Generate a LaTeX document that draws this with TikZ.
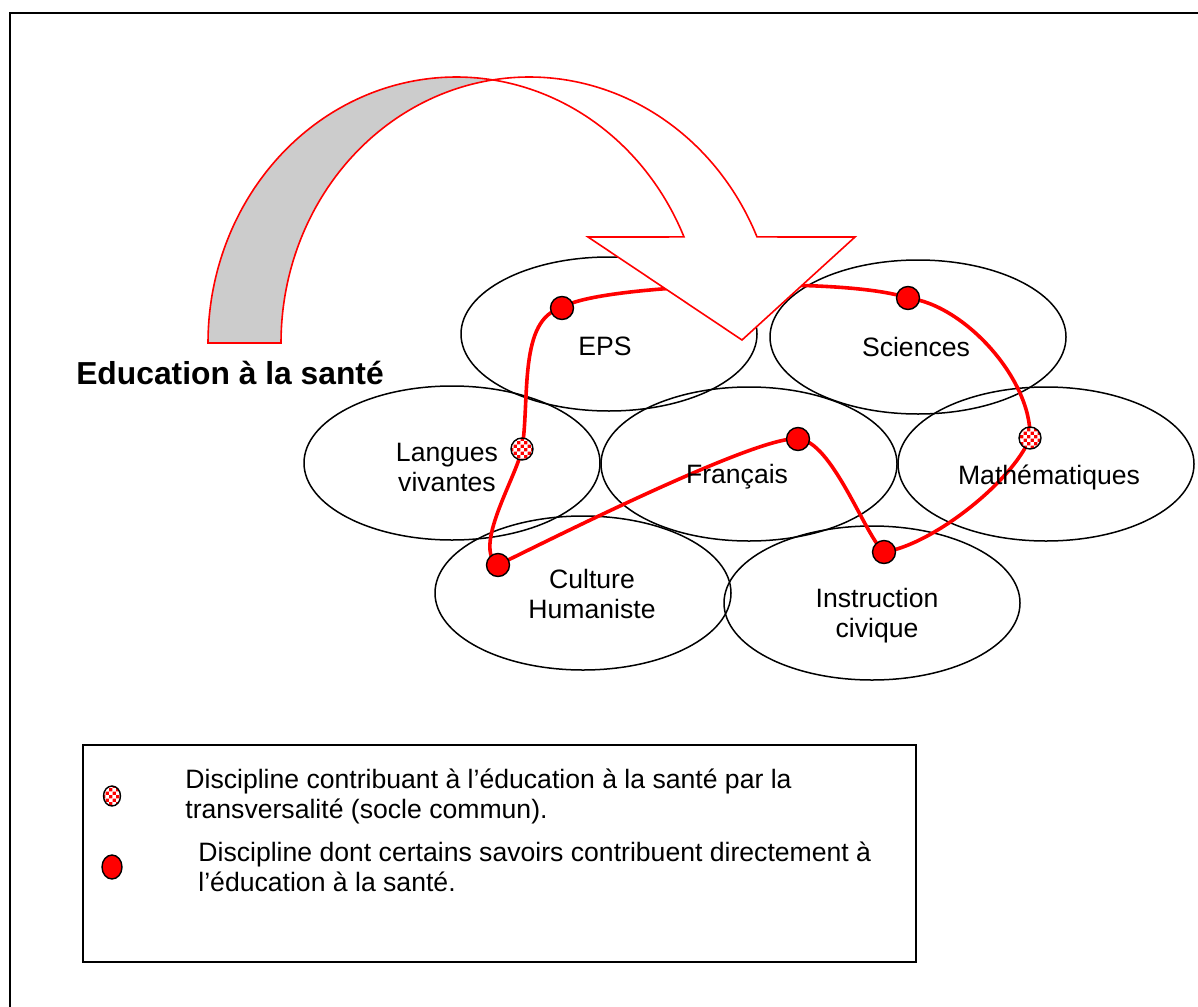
\documentclass[tikz,border=0pt]{standalone}
\usepackage{fontspec}
\setmainfont{Liberation Sans}
\usetikzlibrary{patterns,shapes.geometric}
\pgfdeclarepatternformonly{finecheck}{\pgfpointorigin}{\pgfqpoint{3.4pt}{3.4pt}}{\pgfqpoint{3.4pt}{3.4pt}}{%
  \pgfpathrectangle{\pgfpointorigin}{\pgfqpoint{1.75pt}{1.75pt}}%
  \pgfpathrectangle{\pgfqpoint{1.7pt}{1.7pt}}{\pgfqpoint{1.75pt}{1.75pt}}%
  \pgfusepath{fill}}
\begin{document}
\begin{tikzpicture}[x=0.5pt,y=-0.5pt,
  disc/.style={draw=black,line width=0.75pt,ellipse,minimum width=148pt,minimum height=77pt,inner sep=0pt},
  lbl/.style={font=\fontsize{13.3}{15}\selectfont,align=center,inner sep=0pt},
  txt/.style={font=\fontsize{13.3}{15}\selectfont,align=left,inner sep=0pt,anchor=west},
  sdot/.style={circle,draw=black,line width=0.7pt,fill=red,minimum size=11.5pt,inner sep=0pt},
  cdot/.style={circle,draw=black,line width=0.7pt,preaction={fill=red},pattern=finecheck,pattern color=white,minimum size=11pt,inner sep=0pt},
  redline/.style={draw=red,line width=1.8pt},
  arrowface/.style={draw=red,line width=0.8pt,line join=miter}]
\useasboundingbox (0,0) rectangle (1198,1006);
% outer frame (right and bottom edges lie outside the picture)
\draw[line width=1pt] (10,1010) -- (10,13) -- (1210,13);

% discipline ellipses
\node[disc] (eps) at (609,334) {};
\node[disc] (sci) at (918,337) {};
\node[disc] (lang) at (452,463) {};
\node[disc] (fra) at (749,464) {};
\node[disc] (math) at (1046,464) {};
\node[disc] (cult) at (583,593) {};
\node[disc] (instr) at (872,603) {};

% dot positions
\coordinate (deps) at (562,308);
\coordinate (dsci) at (908,298);
\coordinate (dmath) at (1030,438);
\coordinate (dinstr) at (884,552);
\coordinate (dfra) at (798,439);
\coordinate (dcult) at (498,565);
\coordinate (dlang) at (522,449);

% red loop
\draw[redline] (deps) .. controls (590,285) and (840,275) .. (dsci)
  .. controls (965,305) and (1032,380) .. (dmath)
  .. controls (1012,482) and (932,545) .. (dinstr)
  .. controls (866,538) and (832,440) .. (dfra)
  .. controls (762,434) and (565,532) .. (dcult)
  .. controls (472,548) and (516,478) .. (dlang)
  .. controls (530,400) and (518,318) .. (deps);

% curved arrow: back face (gray)
\filldraw[arrowface,fill=black!20]
  plot[domain=180:278.45,samples=60,smooth] ({456.3+248.3*cos(\x)},{343+266*sin(\x)})
  -- plot[domain=261.55:180,samples=60,smooth] ({529.3+248.3*cos(\x)},{343+266*sin(\x)})
  -- cycle;
% front face (white) with arrowhead
\filldraw[arrowface,fill=white]
  plot[domain=261.55:336.5,samples=60,smooth] ({529.3+248.3*cos(\x)},{343+266*sin(\x)})
  -- (855,237) -- (742,340) -- (588,237)
  -- plot[domain=336.5:278.45,samples=60,smooth] ({456.3+248.3*cos(\x)},{343+266*sin(\x)})
  -- cycle;

% dots
\node[sdot] (neps) at (deps) {};
\node[sdot] (nsci) at (dsci) {};
\node[cdot] (nmath) at (dmath) {};
\node[sdot] (ninstr) at (dinstr) {};
\node[sdot] (nfra) at (dfra) {};
\node[sdot] (ncult) at (dcult) {};
\node[cdot] (nlang) at (dlang) {};

% labels
\node[lbl] (teps) at (605,346) {EPS};
\node[lbl] (tsci) at (916,347) {Sciences};
\node[lbl] (tlang) at (447,467) {Langues\\vivantes};
\node[lbl] (tfra) at (737,477) {Français};
\node[lbl] (tmath) at (1049,477) {Mathématiques};
\node[lbl] (tcult) at (592,594) {Culture\\Humaniste};
\node[lbl] (tinstr) at (877,616) {Instruction\\civique};

\node[font=\fontsize{15.9}{18}\selectfont\bfseries,inner sep=0pt] (head) at (230,373) {Education à la santé};

% legend
\node[draw=black,line width=0.75pt,minimum width=416.5pt,minimum height=108.5pt,inner sep=0pt] (legend) at (499.5,853.5) {};
\node[cdot,ellipse,minimum width=8.5pt,minimum height=10pt] (lc) at (112,796) {};
\node[sdot,ellipse,minimum width=10pt,minimum height=12pt] (ls) at (112,867) {};
\node[txt] (lt1) at (185,796) {Discipline contribuant à l’éducation à la santé par la\\transversalité (socle commun).};
\node[txt] (lt2) at (198,867) {Discipline dont certains savoirs contribuent directement à\\l’éducation à la santé.};
\end{tikzpicture}
\end{document}
